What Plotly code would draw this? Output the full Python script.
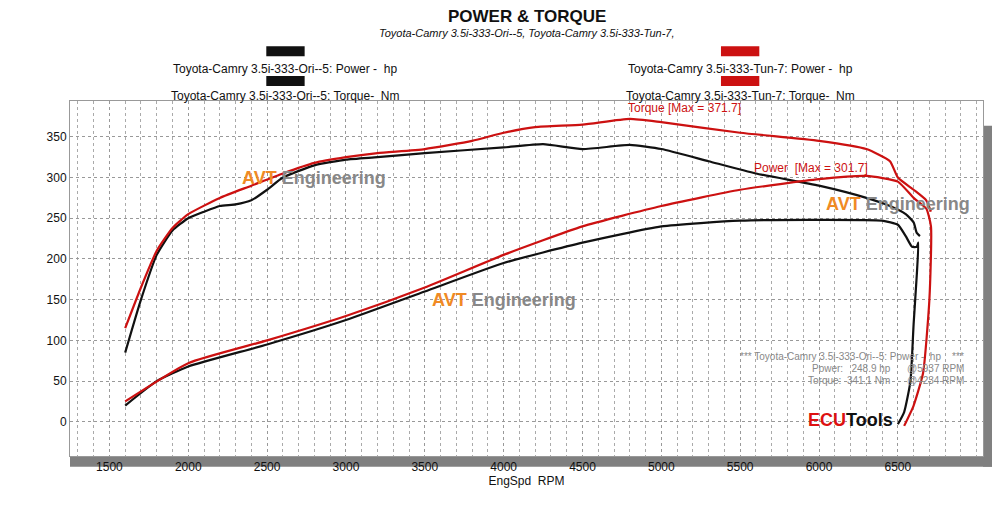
import plotly.graph_objects as go

# Ori (black)
ori_torque_rpm = [1600, 1700, 1800, 1900, 2000, 2100, 2200, 2300, 2400, 2500, 2600, 2800, 3000, 3200, 3500, 4000, 4250,
                  4500, 4800, 5000, 5300, 5600, 6000, 6300, 6450, 6550, 6600, 6620, 6640]
ori_torque = [85, 150, 205, 235, 250, 258, 265, 267, 272, 285, 300, 315, 322, 325, 330, 337, 341,
              335, 340, 335, 320, 305, 290, 275, 265, 255, 245, 232, 228]
ori_power_rpm = [1600, 1800, 2000, 2500, 3000, 3500, 4000, 4500, 5000, 5500, 6000, 6400, 6500, 6550, 6590, 6620,
                 6630, 6620, 6600, 6580, 6540, 6500]
ori_power = [20, 50, 68, 95, 125, 160, 195, 220, 240, 247, 248, 247, 242, 228, 215, 215,
             220, 180, 120, 50, 12, -3]
# Tun (red)
tun_torque_rpm = [1600, 1700, 1800, 1900, 2000, 2200, 2400, 2600, 2800, 3000, 3200, 3500, 3800, 4000, 4200, 4500,
                  4800, 5000, 5500, 6000, 6300, 6450, 6500, 6600, 6680, 6710]
tun_torque = [115, 165, 210, 238, 255, 275, 290, 305, 318, 325, 330, 335, 345, 355, 362, 365,
              372, 368, 355, 345, 335, 320, 300, 285, 272, 258]
tun_power_rpm = [1600, 2000, 2500, 3000, 3500, 4000, 4500, 5000, 5500, 6000, 6300, 6500, 6600, 6680, 6710,
                 6700, 6660, 6600, 6540]
tun_power = [25, 72, 100, 130, 165, 205, 240, 265, 285, 298, 302, 295, 275, 262, 240,
             150, 60, 20, -5]

BLACK = "#111111"
RED = "#cc1111"

fig = go.Figure()
for xs, ys, c in [(ori_torque_rpm, ori_torque, BLACK), (ori_power_rpm, ori_power, BLACK),
                  (tun_torque_rpm, tun_torque, RED), (tun_power_rpm, tun_power, RED)]:
    fig.add_trace(go.Scatter(x=xs, y=ys, mode="lines",
                             line=dict(color=c, width=2.2, shape="spline", smoothing=0.5),
                             showlegend=False))

font = "Liberation Sans, Arial"
fig.update_layout(
    width=1000, height=521,
    margin=dict(l=62, r=25, t=93, b=73),
    plot_bgcolor="white", paper_bgcolor="white",
    font=dict(family=font, size=12, color="#111"),
    xaxis=dict(range=[1250, 7040], tickvals=list(range(1500, 7000, 500)), showgrid=True,
               gridcolor="#999", griddash="dot", gridwidth=1,
               minor=dict(dtick=100, showgrid=True, gridcolor="#aaa", griddash="dot"),
               zeroline=False, showline=True, linecolor="#999", mirror=True,
               title=dict(text="EngSpd  RPM", font=dict(size=12), standoff=2)),
    yaxis=dict(range=[-42, 394], tickvals=list(range(0, 351, 50)), showgrid=True,
               gridcolor="#999", griddash="dot", zeroline=False, showline=True, linecolor="#999", mirror=True),
)


def py(px):
    # pixel row -> paper y
    return (456 - px) / 356


# shadow frame
fig.add_shape(type="rect", xref="paper", yref="paper", x0=1.0, x1=1.012, y0=-0.03, y1=0.93,
              fillcolor="#808080", line_width=0, layer="below")
fig.add_shape(type="rect", xref="paper", yref="paper", x0=0.0, x1=1.012, y0=-0.03, y1=0.0,
              fillcolor="#808080", line_width=0, layer="below")

ann = []
ann.append(dict(text="<b>POWER & TORQUE</b>", x=0.5, y=py(15), xref="paper", yref="paper", yanchor="middle",
                showarrow=False, font=dict(size=17)))
ann.append(dict(text="<i>Toyota-Camry 3.5i-333-Ori--5, Toyota-Camry 3.5i-333-Tun-7,</i>", x=0.5, y=py(32),
                xref="paper", yref="paper", yanchor="middle", showarrow=False, font=dict(size=11)))
legend = [(0.236, 50, 68, "Toyota-Camry 3.5i-333-Ori--5: Power -  hp", BLACK),
          (0.236, 80, 95, "Toyota-Camry 3.5i-333-Ori--5: Torque-  Nm", BLACK),
          (0.734, 50, 68, "Toyota-Camry 3.5i-333-Tun-7: Power -  hp", RED),
          (0.734, 80, 95, "Toyota-Camry 3.5i-333-Tun-7: Torque-  Nm", RED)]
for lx, bar_px, txt_px, txt, c in legend:
    ann.append(dict(text=txt, x=lx, y=py(txt_px), xref="paper", yref="paper", xanchor="center",
                    yanchor="middle", showarrow=False, font=dict(size=12)))
    fig.add_shape(type="rect", xref="paper", yref="paper", x0=lx - 0.021, x1=lx + 0.021,
                  y0=py(bar_px + 5), y1=py(bar_px - 5), fillcolor=c, line_width=0)
ann.append(dict(text="Torque [Max = 371.7]", x=5150, y=385, showarrow=False, font=dict(size=12, color=RED)))
ann.append(dict(text="Power  [Max = 301.7]", x=5950, y=312, showarrow=False, font=dict(size=12, color=RED)))
for ax, ay in [(2800, 300), (4000, 150), (6500, 268)]:
    ann.append(dict(text="<b><span style='color:#f08a24'>AVT</span> <span style='color:#888'>Engineering</span></b>",
                    x=ax, y=ay, showarrow=False, font=dict(size=18)))
ann.append(dict(text="<b><span style='color:#dd1111'>ECU</span><span style='color:#111'>Tools</span></b>",
                x=6200, y=2, showarrow=False, font=dict(size=18)))
for ty, txt in [(80, "*** Toyota-Camry 3.5i-333-Ori--5: Power -  hp    ***"),
                (65, "Power:   248.9 hp      @5937 RPM"),
                (51, "Torque:  341.1 Nm      @4234 RPM")]:
    ann.append(dict(text=txt, x=6930, y=ty, xanchor="right", showarrow=False, font=dict(size=10, color="#888")))
fig.update_layout(annotations=ann)

fig.write_html("out.html")
